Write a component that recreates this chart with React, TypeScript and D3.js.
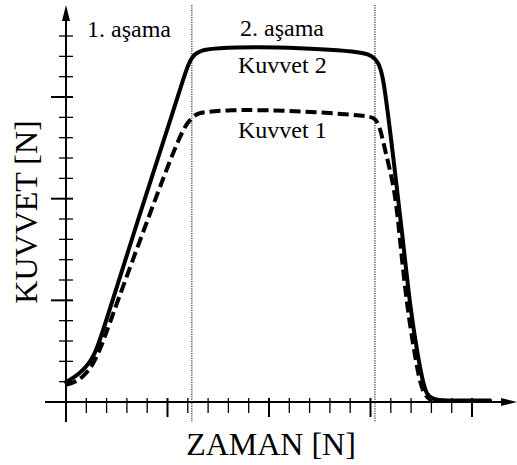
import React from 'react';
import * as d3 from 'd3';

// time (tick units) and force (tick units)
const kuvvet2X = [0, 0.44, 0.84, 1.18, 1.43, 1.67, 2.07, 3.65, 5.27, 5.96, 6.16, 6.35, 6.7, 7.34, 9.46, 11.53, 13.5, 14.73, 15.07, 15.37, 15.62, 16.11, 16.6, 16.95, 17.34, 17.59, 17.78, 18.08, 18.67, 19.9, 20.89];
const kuvvet2Y = [0.98, 1.23, 1.57, 1.97, 2.41, 3.05, 4.28, 9.3, 14.26, 16.48, 16.87, 17.12, 17.31, 17.41, 17.46, 17.41, 17.31, 17.17, 17.02, 16.72, 16.18, 12.15, 7.97, 4.67, 2.21, 0.93, 0.34, 0.12, 0.07, 0.07, 0.07];

const kuvvet1X = [0, 0.44, 0.84, 1.33, 1.77, 2.17, 3.65, 5.27, 5.86, 6.11, 6.35, 6.7, 8.08, 9.46, 11.53, 14.38, 14.98, 15.22, 15.47, 15.71, 16.21, 16.45, 16.8, 17.2, 17.44, 17.68, 18.03];
const kuvvet1Y = [0.84, 0.98, 1.23, 1.82, 2.8, 3.94, 7.97, 12.3, 13.58, 13.87, 14.12, 14.26, 14.36, 14.36, 14.31, 14.12, 14.02, 13.97, 13.53, 12.4, 10.43, 7.97, 4.67, 2.21, 0.93, 0.3, 0.05];

const phaseBounds = [6.2, 15.22];
const phaseLabels = ['1. aşama', '2. aşama'];
const seriesLabels = ['Kuvvet 2', 'Kuvvet 1'];
const xTicks = d3.range(1, 21);
const yTicks = d3.range(1, 19);

const W = 517;
const H = 465;
const font = '"Liberation Serif", "Times New Roman", serif';

export default function App() {
    const x = d3.scaleLinear().domain([0, 22]).range([66, 512.6]);
    const y = d3.scaleLinear().domain([0, 19]).range([402, 15.7]);

    const line = d3.line<[number, number]>()
        .x((d) => x(d[0]))
        .y((d) => y(d[1]))
        .curve(d3.curveBasis);

    const solid = line(kuvvet2X.map((v, i) => [v, kuvvet2Y[i]] as [number, number]));
    const dashed = line(kuvvet1X.map((v, i) => [v, kuvvet1Y[i]] as [number, number]));

    const x0 = x(0);
    const y0 = y(0);

    return (
        <svg width={W} height={H} style={{ position: 'absolute', left: 0, top: 0, background: '#fff' }}>
            {/* phase dividers */}
            {phaseBounds.map((b) => (
                <line key={b} x1={x(b)} x2={x(b)} y1={5} y2={422} stroke="#000" strokeWidth={1} strokeDasharray="1.2,1.2" />
            ))}

            {/* axes */}
            <line x1={45} x2={508} y1={y0} y2={y0} stroke="#000" strokeWidth={2} />
            <line x1={x0} x2={x0} y1={422} y2={14} stroke="#000" strokeWidth={2} />
            <path d={`M${x0},5 L${x0 - 4},21 L${x0 + 4},21 Z`} fill="#000" />
            <path d={`M517,${y0} L501,${y0 - 4} L501,${y0 + 4} Z`} fill="#000" />

            {xTicks.map((t) => {
                const major = t % 5 === 0;
                return (
                    <line key={'x' + t} x1={x(t)} x2={x(t)} y1={y0 - 4} y2={major ? y0 + 15 : y0 + 11}
                        stroke="#000" strokeWidth={major ? 2 : 1.3} />
                );
            })}
            {yTicks.map((t) => {
                const major = t % 5 === 0;
                return (
                    <line key={'y' + t} x1={major ? x0 - 15 : x0 - 7} x2={x0 + 7} y1={y(t)} y2={y(t)}
                        stroke="#000" strokeWidth={major ? 2 : 1.3} />
                );
            })}

            {/* curves */}
            <path d={dashed || ''} fill="none" stroke="#000" strokeWidth={4} strokeDasharray="11,5" />
            <path d={solid || ''} fill="none" stroke="#000" strokeWidth={4} strokeLinecap="round" />

            {/* labels */}
            <g fontFamily={font} fontSize={24} fill="#000">
                <text x={87} y={37}>{phaseLabels[0]}</text>
                <text x={240} y={36}>{phaseLabels[1]}</text>
                <text x={238} y={73}>{seriesLabels[0]}</text>
                <text x={238} y={138}>{seriesLabels[1]}</text>
            </g>
            <text x={271} y={455} textAnchor="middle" fontFamily={font} fontSize={32}>ZAMAN [N]</text>
            <text transform="translate(37,212) rotate(-90)" textAnchor="middle" fontFamily={font} fontSize={32}>KUVVET [N]</text>
        </svg>
    );
}
